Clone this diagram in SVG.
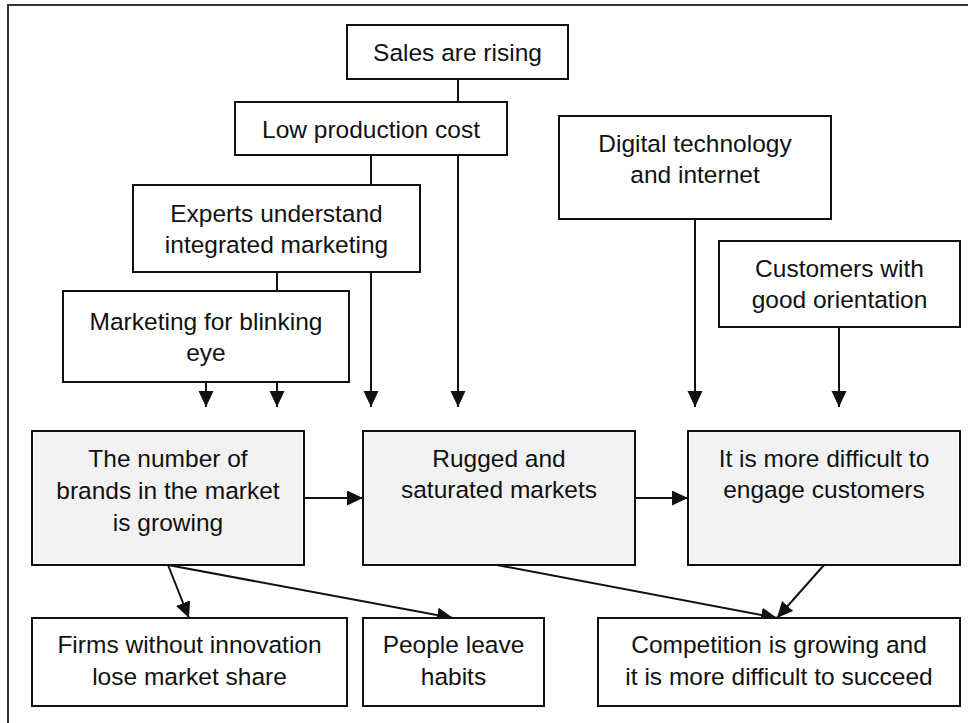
<svg xmlns="http://www.w3.org/2000/svg" width="968" height="723" viewBox="0 0 968 723">
  <style>
    .box { fill: #ffffff; stroke: #111111; stroke-width: 2; }
    .hl { fill: #f2f2f2; stroke: #111111; stroke-width: 2; }
    text { font-family: "Liberation Sans", Arial, sans-serif; font-size: 24.5px; fill: #111111; text-anchor: middle; }
    .link { stroke: #111111; stroke-width: 2; fill: none; }
    .arrow { stroke: #111111; stroke-width: 2; fill: none; marker-end: url(#head); }
  </style>
  <defs>
    <marker id="head" markerUnits="userSpaceOnUse" markerWidth="16" markerHeight="16" refX="16" refY="7.5" orient="auto">
      <path d="M0,0 L16,7.5 L0,15 Z" fill="#111111"/>
    </marker>
  </defs>

  <rect x="0" y="0" width="968" height="723" fill="#ffffff"/>
  <!-- frame -->
  <path d="M8,723 V5 H968" stroke="#333333" stroke-width="2" fill="none"/>

  <g id="connectors">
    <line class="link" x1="458" y1="79" x2="458" y2="102"/>
    <line class="link" x1="371" y1="155" x2="371" y2="185"/>
    <line class="link" x1="277" y1="272" x2="277" y2="291"/>
    <line class="arrow" x1="371" y1="272" x2="371" y2="407"/>
    <line class="arrow" x1="458" y1="155" x2="458" y2="407"/>
    <line class="arrow" x1="206" y1="382" x2="206" y2="407"/>
    <line class="arrow" x1="277" y1="382" x2="277" y2="407"/>
    <line class="arrow" x1="695" y1="219" x2="695" y2="407"/>
    <line class="arrow" x1="839" y1="327" x2="839" y2="407"/>
    <line class="arrow" x1="304" y1="498" x2="363" y2="498"/>
    <line class="arrow" x1="635" y1="498" x2="688" y2="498"/>
    <line class="arrow" x1="168" y1="565" x2="189" y2="618"/>
    <line class="arrow" x1="168" y1="565" x2="453" y2="618"/>
    <line class="arrow" x1="497" y1="565" x2="777" y2="618"/>
    <line class="arrow" x1="824" y1="565" x2="777" y2="618"/>
  </g>

  <g id="sales">
    <rect class="box" x="347" y="25" width="221" height="54"/>
    <text x="457.5" y="61">Sales are rising</text>
  </g>
  <g id="cost">
    <rect class="box" x="235" y="102" width="272" height="53"/>
    <text x="371" y="138">Low production cost</text>
  </g>
  <g id="experts">
    <rect class="box" x="133" y="185" width="287" height="87"/>
    <text x="276.5" y="222">Experts understand</text>
    <text x="276.5" y="253">integrated marketing</text>
  </g>
  <g id="blinking">
    <rect class="box" x="63" y="291" width="286" height="91"/>
    <text x="206" y="330">Marketing for blinking</text>
    <text x="206" y="361">eye</text>
  </g>
  <g id="digital">
    <rect class="box" x="559" y="116" width="272" height="103"/>
    <text x="695" y="152">Digital technology</text>
    <text x="695" y="183">and internet</text>
  </g>
  <g id="customers">
    <rect class="box" x="719" y="241" width="241" height="86"/>
    <text x="839.5" y="277">Customers with</text>
    <text x="839.5" y="308">good orientation</text>
  </g>
  <g id="brands">
    <rect class="hl" x="32" y="431" width="272" height="134"/>
    <text x="168" y="467">The number of</text>
    <text x="168" y="499">brands in the market</text>
    <text x="168" y="531">is growing</text>
  </g>
  <g id="rugged">
    <rect class="hl" x="363" y="431" width="272" height="134"/>
    <text x="499" y="467">Rugged and</text>
    <text x="499" y="498">saturated markets</text>
  </g>
  <g id="engage">
    <rect class="hl" x="688" y="431" width="272" height="134"/>
    <text x="824" y="467">It is more difficult to</text>
    <text x="824" y="498">engage customers</text>
  </g>
  <g id="firms">
    <rect class="box" x="32" y="618" width="315" height="88"/>
    <text x="189.5" y="653">Firms without innovation</text>
    <text x="189.5" y="685">lose market share</text>
  </g>
  <g id="habits">
    <rect class="box" x="363" y="618" width="181" height="88"/>
    <text x="453.5" y="653">People leave</text>
    <text x="453.5" y="685">habits</text>
  </g>
  <g id="competition">
    <rect class="box" x="598" y="618" width="362" height="88"/>
    <text x="779" y="653">Competition is growing and</text>
    <text x="779" y="685">it is more difficult to succeed</text>
  </g>
</svg>
